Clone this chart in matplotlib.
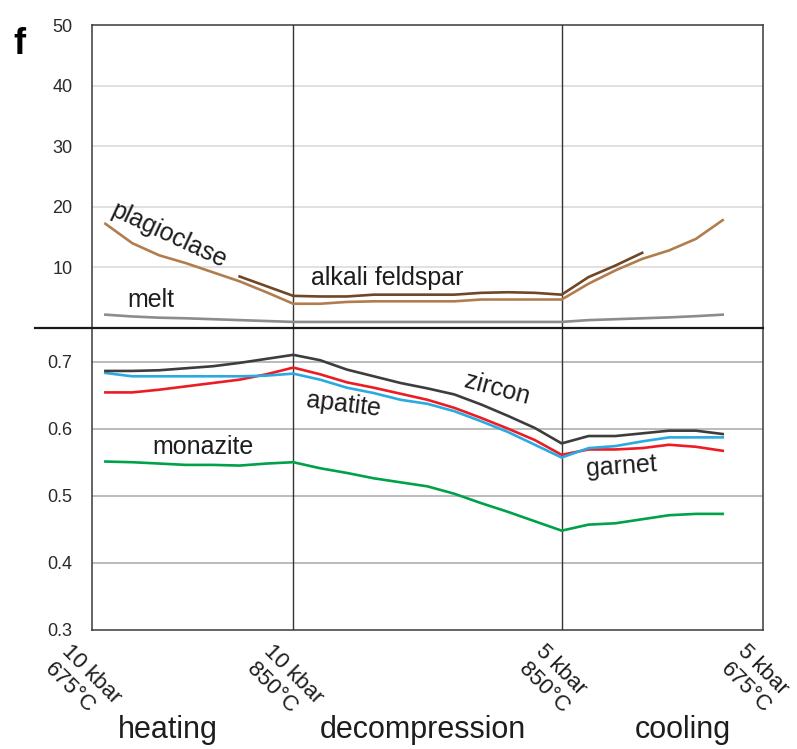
import numpy as np
import matplotlib
matplotlib.use("Agg")
from matplotlib import pyplot as plt
from matplotlib.lines import Line2D
from matplotlib.transforms import ScaledTranslation

plt.rcParams['font.family'] = ['Liberation Sans', 'DejaVu Sans']

# steps: 10 kbar 675..850 C (heating), 9.5..5 kbar at 850 C (decompression), 825..700 C at 5 kbar (cooling)
steps = np.arange(24)

plagioclase = [17.2, 14.0, 12.0, 10.7, 9.2, 7.7, 5.9, 4.0,
               4.0, 4.3, 4.4, 4.4, 4.4, 4.4, 4.7, 4.7, 4.7, 4.7,
               7.3, 9.5, 11.4, 12.8, 14.7, 17.8]
alkali_feldspar = [np.nan] * 5 + [8.5, 6.9, 5.3,
                   5.2, 5.2, 5.5, 5.5, 5.5, 5.5, 5.8, 5.9, 5.8, 5.5,
                   8.4, 10.3, 12.4] + [np.nan] * 3
melt = [2.2, 1.9, 1.7, 1.6, 1.45, 1.3, 1.15, 1.0,
        1.0, 1.0, 1.0, 1.0, 1.0, 1.0, 1.0, 1.0, 1.0, 1.0,
        1.3, 1.45, 1.6, 1.75, 1.95, 2.2]

zircon = [0.686, 0.686, 0.687, 0.690, 0.693, 0.698, 0.704, 0.710,
          0.702, 0.688, 0.678, 0.668, 0.660, 0.651, 0.636, 0.619, 0.601, 0.578,
          0.589, 0.589, 0.593, 0.597, 0.597, 0.592]
apatite = [0.683, 0.678, 0.678, 0.678, 0.678, 0.678, 0.679, 0.682,
           0.673, 0.661, 0.653, 0.643, 0.637, 0.626, 0.611, 0.595, 0.576, 0.557,
           0.571, 0.574, 0.581, 0.587, 0.587, 0.587]
garnet = [0.654, 0.654, 0.658, 0.663, 0.668, 0.673, 0.681, 0.691,
          0.681, 0.669, 0.661, 0.652, 0.643, 0.631, 0.616, 0.600, 0.583, 0.561,
          0.569, 0.569, 0.571, 0.576, 0.573, 0.567]
monazite = [0.551, 0.550, 0.548, 0.546, 0.546, 0.545, 0.548, 0.550,
            0.541, 0.534, 0.526, 0.520, 0.514, 0.503, 0.489, 0.476, 0.462, 0.448,
            0.457, 0.459, 0.465, 0.471, 0.473, 0.473]

tick_pos = [-0.5, 7, 17, 24.5]
tick_labels = ['10 kbar\n675°C', '10 kbar\n850°C', '5 kbar\n850°C', '5 kbar\n675°C']
stages = ['heating', 'decompression', 'cooling']

fig = plt.figure(figsize=(7.97, 7.49), dpi=100)
left, width = 0.1154, 0.8419
ax1 = fig.add_axes([left, 0.5621, width, 0.4045])
ax2 = fig.add_axes([left, 0.1589, width, 0.4032])

frame = '#3a3a3a'
txt = '#1e1c1d'
for ax in (ax1, ax2):
    ax.set_xlim(-0.5, 24.5)
    for s in ax.spines.values():
        s.set_color(frame)
        s.set_linewidth(1.1)
    ax.tick_params(axis='y', length=0, pad=14, labelsize=13, labelcolor='#2a2a2a')
    ax.axvline(7, color='#333333', lw=1.0, zorder=1)
    ax.axvline(17, color='#333333', lw=1.0, zorder=1)

ax1.set_ylim(0, 50)
ax1.set_yticks([10, 20, 30, 40, 50])
ax1.spines['bottom'].set_visible(False)
ax1.set_xticks([])
for v in [10, 20, 30, 40]:
    ax1.axhline(v, color='#dcdcdc', lw=1.2, zorder=0)

ax1.plot(steps, melt, color='#8b8b90', lw=1.9)
ax1.plot(steps, plagioclase, color='#b27d4e', lw=1.9)
ax1.plot(steps, alkali_feldspar, color='#6f4626', lw=1.9)

ax1.text(2.36, 15.3, 'plagioclase', fontsize=18, rotation=-25, ha='center', va='center', color=txt)
ax1.text(1.70, 4.7, 'melt', fontsize=18, ha='center', va='center', color=txt)
ax1.text(10.49, 8.2, 'alkali feldspar', fontsize=18, ha='center', va='center', color=txt)

ax2.set_ylim(0.3, 0.75)
ax2.set_yticks([0.3, 0.4, 0.5, 0.6, 0.7])
ax2.set_yticklabels(['0.3', '0.4', '0.5', '0.6', '0.7'])
ax2.spines['top'].set_visible(False)
for v in [0.4, 0.5, 0.6, 0.7]:
    ax2.axhline(v, color='#b5b5b5', lw=1.3, zorder=0)

ax2.plot(steps, monazite, color='#00a14b', lw=1.9)
ax2.plot(steps, garnet, color='#ed1c24', lw=1.9)
ax2.plot(steps, apatite, color='#29abe2', lw=1.9)
ax2.plot(steps, zircon, color='#3d3d3d', lw=1.9)

ax2.text(3.64, 0.573, 'monazite', fontsize=18, ha='center', va='center', color=txt)
ax2.text(8.89, 0.636, 'apatite', fontsize=18, rotation=-7, ha='center', va='center', color=txt)
ax2.text(14.59, 0.660, 'zircon', fontsize=18, rotation=-15, ha='center', va='center', color=txt)
ax2.text(19.21, 0.543, 'garnet', fontsize=18, rotation=4, ha='center', va='center', color=txt)

ax2.set_xticks(tick_pos)
ax2.set_xticklabels(tick_labels, rotation=-45, ha='center', va='top',
                    fontsize=16, color=txt, multialignment='left')
ax2.tick_params(axis='x', length=0, pad=8)
shift = ScaledTranslation(-0.09, 0, fig.dpi_scale_trans)
for lab in ax2.get_xticklabels():
    lab.set_transform(lab.get_transform() + shift)

# divider between the two panels, sticking out to the left
fig.add_artist(Line2D([0.044, left + width], [0.5621, 0.5621], color='#1a1a1a', lw=1.6))

fig.text(0.025, 0.940, 'f', fontsize=26, fontweight='bold', ha='center', va='center')
for name, xf in zip(stages, [0.211, 0.531, 0.857]):
    fig.text(xf, 0.026, name, fontsize=22, ha='center', va='center', color=txt)

fig.savefig('out.png', dpi=100)
